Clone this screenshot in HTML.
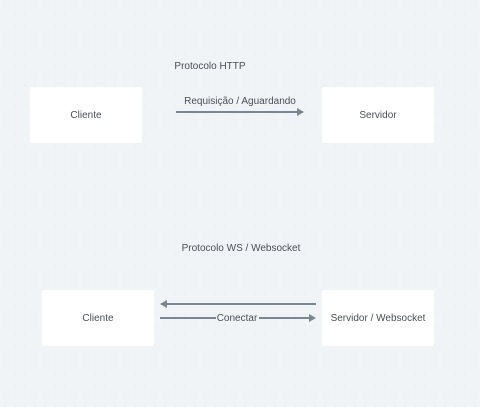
<!DOCTYPE html>
<html><head><meta charset="utf-8"><style>
html,body{margin:0;padding:0}
body{width:480px;height:407px;background:#f1f4f7;position:relative;overflow:hidden;font-family:"Liberation Sans",sans-serif;color:#4a4f55;font-size:10px}
.bg{position:absolute;inset:0;background-image:radial-gradient(#dde2e8 0.6px,transparent 0.7px);background-size:10px 10px}
.box{position:absolute;background:#fff;width:112px;height:56px;display:flex;align-items:center;justify-content:center;border-radius:2px}
.t{position:absolute;white-space:nowrap;transform:translateX(-50%)}
</style></head><body>
<div class="bg"></div>
<div class="t" style="left:210px;top:61px">Protocolo HTTP</div>
<div class="box" style="left:30px;top:87px">Cliente</div>
<div class="box" style="left:322px;top:87px">Servidor</div>
<div class="t" style="left:240px;top:96px">Requisição / Aguardando</div>
<div class="t" style="left:241px;top:243px">Protocolo WS / Websocket</div>
<div class="box" style="left:42px;top:290px">Cliente</div>
<div class="box" style="left:322px;top:290px">Servidor / Websocket</div>
<svg width="480" height="407" style="position:absolute;left:0;top:0">
<g stroke="#7d8591" stroke-width="2" fill="#7d8591">
<line x1="176" y1="112" x2="298" y2="112"/>
<polygon points="304,112 297,108 297,116" stroke="none"/>
<line x1="316" y1="304" x2="166" y2="304"/>
<polygon points="160,304 167,300 167,308" stroke="none"/>
<line x1="160" y1="318" x2="216" y2="318"/>
<line x1="259" y1="318" x2="310" y2="318"/>
<polygon points="316,318 309,314 309,322" stroke="none"/>
</g>
</svg>
<div class="t" style="left:237px;top:313px">Conectar</div>
</body></html>
